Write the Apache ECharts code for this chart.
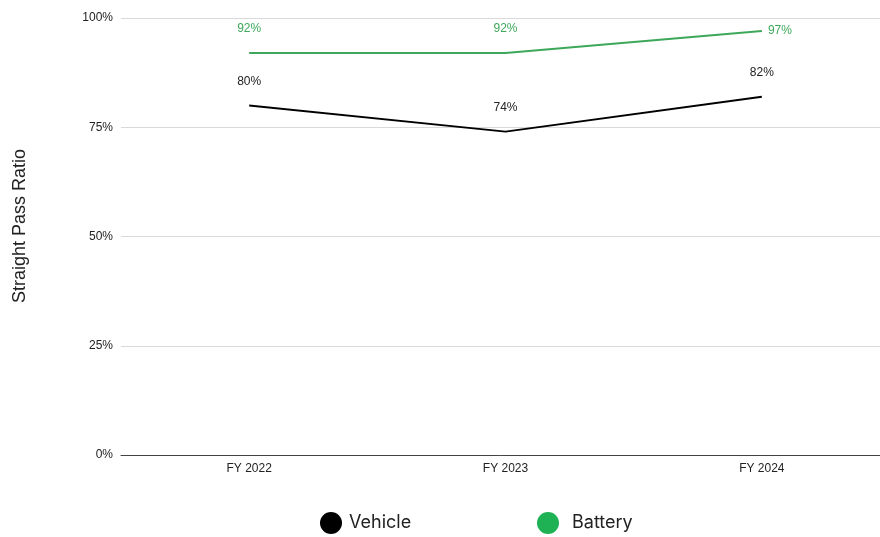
<!DOCTYPE html>
<html>
<head>
<meta charset="utf-8">
<script src="https://cdn.jsdelivr.net/npm/echarts@6/dist/echarts.min.js"></script>
<style>html,body{margin:0;padding:0;background:#fff;}#c{width:880px;height:537px;}</style>
</head>
<body>
<div id="c"></div>
<script>
const categories = ['FY 2022', 'FY 2023', 'FY 2024'];
const vehicle = [0.80, 0.74, 0.82];
const battery = [0.92, 0.92, 0.97];
const yTicks = [0, 0.25, 0.5, 0.75, 1];
const yAxisTitle = 'Straight Pass Ratio';

const chart = echarts.init(document.getElementById('c'), null, {renderer: 'canvas'});
const pct = v => Math.round(v * 100) + '%';
const labelFont = {fontFamily: 'Liberation Sans, Arial, sans-serif', fontSize: 12};
const legendText = {fontFamily: 'Inter, Roboto, sans-serif', fontSize: 18, color: '#222'};
chart.setOption({
  animation: false,
  backgroundColor: '#fff',
  grid: {left: 121, width: 769, top: 18, bottom: 82, outerBoundsMode: 'none', containLabel: false},
  legend: [
    {
      top: 512, left: 320, itemWidth: 22, itemHeight: 22, icon: 'circle', padding: 0,
      textStyle: Object.assign({padding: [0, 0, 0, 2]}, legendText),
      data: [{name: 'Vehicle', itemStyle: {color: '#000'}}]
    },
    {
      top: 512, left: 537, itemWidth: 22, itemHeight: 22, icon: 'circle', padding: 0,
      textStyle: Object.assign({padding: [0, 0, 0, 8]}, legendText),
      data: [{name: 'Battery', itemStyle: {color: '#1fb255'}}]
    }
  ],
  graphic: [{
    type: 'text',
    x: 20, y: 226,
    rotation: Math.PI / 2,
    style: {text: yAxisTitle, fontFamily: 'Liberation Sans, Arial, sans-serif', fontSize: 18, fill: '#222', align: 'center', verticalAlign: 'middle'}
  }],
  xAxis: {
    type: 'category',
    data: categories,
    boundaryGap: true,
    axisLine: {lineStyle: {color: '#444', width: 1}},
    axisTick: {show: false},
    axisLabel: Object.assign({color: '#222', margin: 8}, labelFont)
  },
  yAxis: {
    type: 'value',
    min: yTicks[0],
    max: yTicks[yTicks.length - 1],
    interval: 0.25,
    axisLine: {show: false},
    axisTick: {show: false},
    splitLine: {lineStyle: {color: '#d9d9d9', width: 1}},
    axisLabel: Object.assign({color: '#222', margin: 8, formatter: v => pct(v)}, labelFont)
  },
  series: [
    {
      name: 'Vehicle',
      type: 'line',
      data: vehicle,
      symbol: 'circle',
      symbolSize: 0.1,
      showSymbol: true,
      lineStyle: {color: '#000', width: 2},
      itemStyle: {color: '#000'},
      label: Object.assign({show: true, position: 'top', distance: 18, color: '#222', formatter: p => pct(p.value)}, labelFont)
    },
    {
      name: 'Battery',
      type: 'line',
      symbol: 'circle',
      symbolSize: 0.1,
      showSymbol: true,
      lineStyle: {color: '#3ea85a', width: 2},
      itemStyle: {color: '#1fb255'},
      label: Object.assign({show: true, position: 'top', distance: 18, color: '#3ea85a', formatter: p => pct(p.value)}, labelFont),
      data: battery.map((v, i) => i === battery.length - 1
        ? {value: v, label: {position: 'right', distance: 6}}
        : v)
    }
  ]
});
</script>
</body>
</html>
